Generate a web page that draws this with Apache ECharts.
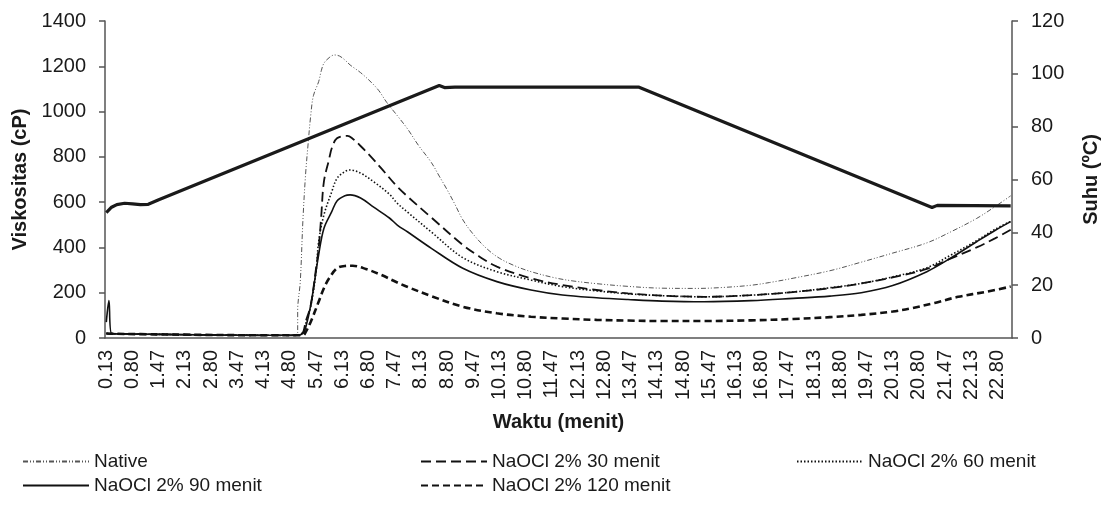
<!DOCTYPE html>
<html><head><meta charset="utf-8">
<script src="https://cdn.jsdelivr.net/npm/echarts@6/dist/echarts.min.js"></script>
<style>html,body{margin:0;padding:0;background:#fff}#c{width:1109px;height:508px}</style>
</head><body><div id="c"></div>
<script>
// time categories: every 4 s starting at 8 s (minutes, 2 decimals)
const startSec = 8, stepSec = 4, nCat = 346;
const categories = Array.from({length: nCat}, (_, i) => ((startSec + stepSec * i) / 60).toFixed(2));

// [time (min), viscosity (cP)]
const nativeData = [[0.13,20],[0.27,19],[1.0,17],[2.5,14],[4.0,12],[4.87,12],[4.97,25],[5.03,120],[5.07,250],[5.13,520],[5.2,720],[5.27,860],[5.35,985],[5.43,1070],[5.52,1132],[5.6,1180],[5.69,1213],[5.8,1238],[5.93,1250],[6.07,1245],[6.2,1228],[6.36,1206],[6.6,1172],[6.87,1130],[7.07,1092],[7.29,1040],[7.54,982],[7.79,922],[8.07,852],[8.38,775],[8.6,715],[8.8,655],[9.0,590],[9.22,522],[9.47,458],[9.81,396],[10.13,352],[10.5,318],[10.9,293],[11.5,266],[12.0,252],[12.58,240],[13.4,228],[14.26,220],[15.1,219],[15.8,223],[16.5,233],[17.0,245],[17.62,264],[18.5,297],[19.3,335],[20.13,375],[20.98,420],[21.6,468],[22.24,528],[22.7,580],[23.13,628]];
const naocl30 = [[0.13,20],[0.27,19],[1.0,17],[2.5,14],[4.0,12],[5.0,12],[5.13,25],[5.23,70],[5.35,146],[5.48,308],[5.52,396],[5.6,540],[5.69,690],[5.78,790],[5.86,838],[6.03,882],[6.25,893],[6.4,880],[6.61,848],[6.87,800],[7.12,748],[7.54,668],[7.79,624],[8.38,532],[9.22,411],[9.6,362],[10.06,315],[10.9,264],[11.74,234],[12.58,212],[13.42,197],[14.26,187],[15.35,182],[16.5,189],[17.62,203],[18.5,220],[19.3,241],[20.13,268],[20.98,305],[21.6,350],[22.24,400],[22.7,440],[23.13,478]];
const naocl60 = [[0.13,20],[0.27,19],[1.0,17],[2.5,14],[4.0,12],[5.0,12],[5.13,25],[5.23,60],[5.35,140],[5.48,290],[5.56,425],[5.69,543],[5.86,646],[6.03,705],[6.2,735],[6.36,742],[6.6,728],[6.95,690],[7.3,635],[7.54,595],[7.79,555],[8.38,468],[9.22,355],[10.06,293],[10.9,256],[11.74,227],[12.58,208],[13.42,195],[14.26,187],[15.35,182],[16.5,189],[17.62,203],[18.5,222],[19.3,241],[20.13,270],[20.98,310],[21.6,365],[22.24,430],[22.7,480],[23.13,515]];
const naocl90 = [[0.13,70],[0.2,165],[0.27,20],[1.0,17],[2.5,14],[4.0,12],[5.0,12],[5.13,20],[5.23,43],[5.35,146],[5.52,367],[5.69,484],[5.86,558],[6.03,605],[6.2,628],[6.36,632],[6.6,618],[6.95,578],[7.3,530],[7.54,499],[7.79,468],[8.38,396],[9.22,308],[10.06,249],[10.9,212],[11.74,190],[12.58,178],[13.42,170],[14.26,163],[15.35,160],[16.5,165],[17.62,175],[18.5,185],[19.3,200],[20.13,232],[20.98,293],[21.6,352],[22.24,425],[22.7,475],[23.13,514]];
const naocl120 = [[0.13,20],[0.27,19],[1.0,17],[2.5,14],[4.0,12],[5.1,12],[5.23,25],[5.35,72],[5.52,160],[5.64,220],[5.77,264],[6.03,308],[6.2,318],[6.4,319],[6.7,305],[7.12,278],[7.54,245],[7.79,225],[8.38,185],[9.22,138],[10.06,109],[10.9,94],[11.74,86],[12.58,80],[13.42,77],[14.26,75],[15.35,75],[16.5,78],[17.62,84],[18.5,92],[19.3,102],[20.13,117],[20.57,131],[21.2,155],[21.82,182],[22.5,205],[23.13,227]];
// [time (min), temperature (ºC)]
const suhuData = [[0.13,47.5],[0.27,49.5],[0.4,50.5],[0.6,51],[0.8,50.8],[1.0,50.5],[1.2,50.6],[1.47,52.3],[8.6,95.6],[8.73,94.8],[9.0,95.0],[13.67,95.0],[21.13,49.4],[21.27,50.2],[23.13,50]];

const leftTicks = {min: 0, max: 1400, interval: 200};
const rightTicks = {min: 0, max: 120, interval: 20};

const toIdx = t => Math.round((t * 60 - startSec) / stepSec);
const conv = arr => arr.map(([t, v]) => [toIdx(t), v]);

const font = '"Liberation Sans", Arial, sans-serif';
const txt = '#1a1a1a';
const axisCol = '#555';

function vSeries(name, data, width, type, color) {
  return {
    name, type: 'line', data: conv(data), yAxisIndex: 0, showSymbol: false, symbol: 'none',
    smooth: 0.35,
    lineStyle: {color, width, type}, itemStyle: {color}, z: 3
  };
}

const legendItems = [
  {name: 'Native', left: 22, top: 452},
  {name: 'NaOCl 2% 30 menit', left: 420, top: 452},
  {name: 'NaOCl 2% 60 menit', left: 796, top: 452},
  {name: 'NaOCl 2% 90 menit', left: 22, top: 476},
  {name: 'NaOCl 2% 120 menit', left: 420, top: 476}
];

const chart = echarts.init(document.getElementById('c'), null, {renderer: 'canvas'});
chart.setOption({
  animation: false,
  backgroundColor: '#fff',
  textStyle: {fontFamily: font},
  grid: {left: 105, right: 89, top: 21, bottom: 170, containLabel: false},
  legend: legendItems.map(li => ({
    data: [li.name], left: li.left, top: li.top, itemWidth: 66, itemHeight: 14,
    itemStyle: {opacity: 0},
    textStyle: {fontFamily: font, fontSize: 19, color: txt}, padding: 0, selectedMode: false
  })),
  xAxis: {
    type: 'category', data: categories, boundaryGap: true,
    axisLine: {show: true, lineStyle: {color: axisCol, width: 1.5}},
    axisTick: {show: false},
    axisLabel: {interval: 9, rotate: 90, fontSize: 20, color: txt, margin: 12, fontFamily: font},
    splitLine: {show: false},
    name: 'Waktu (menit)', nameLocation: 'middle', nameGap: 74,
    nameTextStyle: {fontSize: 20, fontWeight: 'bold', color: txt, fontFamily: font}
  },
  yAxis: [
    {
      type: 'value', position: 'left', ...leftTicks,
      axisLine: {show: true, lineStyle: {color: axisCol, width: 1.5}},
      axisTick: {show: true, length: 6, lineStyle: {color: axisCol, width: 1.5}},
      axisLabel: {fontSize: 20, color: txt, margin: 19, fontFamily: font, formatter: v => String(v)},
      splitLine: {show: false},
      name: 'Viskositas (cP)', nameLocation: 'middle', nameGap: 69, nameRotate: 90,
      nameTextStyle: {fontSize: 20, fontWeight: 'bold', color: txt, fontFamily: font}
    },
    {
      type: 'value', position: 'right', ...rightTicks,
      axisLine: {show: true, lineStyle: {color: axisCol, width: 1.5}},
      axisTick: {show: true, length: 6, lineStyle: {color: axisCol, width: 1.5}},
      axisLabel: {fontSize: 20, color: txt, margin: 19, fontFamily: font, formatter: v => String(v)},
      splitLine: {show: false},
      name: 'Suhu (ºC)', nameLocation: 'middle', nameGap: 69, nameRotate: 90,
      nameTextStyle: {fontSize: 20, fontWeight: 'bold', color: txt, fontFamily: font}
    }
  ],
  series: [
    vSeries('Native', nativeData, 1, [5, 2, 1, 2, 1, 2], '#555'),
    vSeries('NaOCl 2% 30 menit', naocl30, 1.8, [10, 5], '#111'),
    vSeries('NaOCl 2% 60 menit', naocl60, 1.6, [1.5, 2], '#111'),
    vSeries('NaOCl 2% 90 menit', naocl90, 1.6, 'solid', '#111'),
    vSeries('NaOCl 2% 120 menit', naocl120, 2.6, [7, 4], '#111'),
    {
      name: 'Suhu', type: 'line', data: conv(suhuData), yAxisIndex: 1, showSymbol: false, symbol: 'none',
      smooth: false, lineStyle: {color: '#1a1a1a', width: 3.2}, z: 4
    }
  ]
});
</script></body></html>
